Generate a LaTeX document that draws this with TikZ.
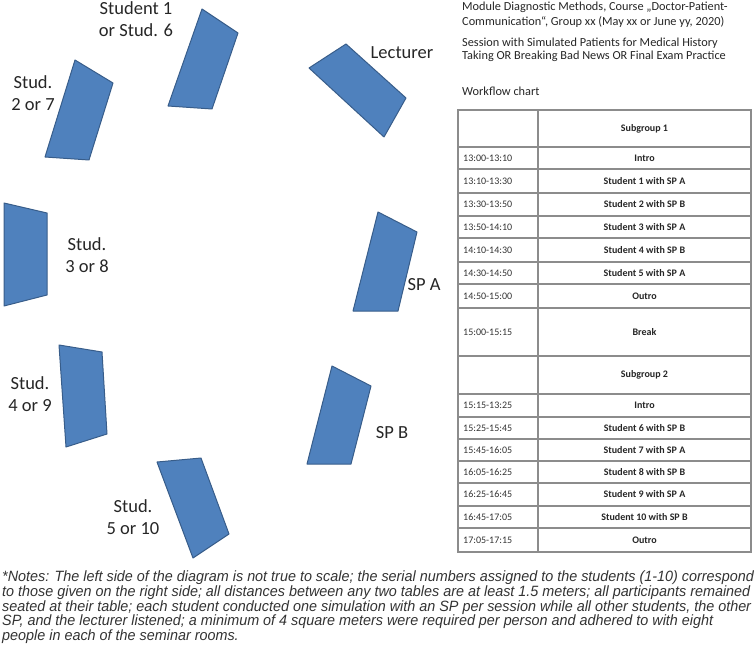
\documentclass[tikz,border=0pt]{standalone}
\usepackage{fontspec}
\setmainfont{Carlito}
\newfontfamily\notefont[FakeStretch=0.965]{Liberation Sans}
\definecolor{tblfill}{HTML}{4F81BD}
\definecolor{tbldraw}{HTML}{385D8A}
\definecolor{gridc}{HTML}{8C8C8C}
\begin{document}
\begin{tikzpicture}[x=1pt,y=-1pt,
  desk/.style={fill=tblfill,draw=tbldraw,line width=1pt,line join=round},
  lbl/.style={font=\fontsize{18.5}{22}\selectfont,align=center,inner sep=0pt,text=black!85},
  head/.style={font=\fontsize{12.3}{14}\selectfont,anchor=west,inner sep=0pt,text=black!85},
  cellt/.style={font=\fontsize{10}{12}\selectfont,anchor=west,inner sep=0pt,text=black!80},
  celll/.style={font=\fontsize{10}{12}\selectfont\bfseries,inner sep=0pt,text=black!85},
  grid/.style={draw=gridc,line width=1.1pt},
  note/.style={font=\notefont\itshape\fontsize{14.9}{14.7}\selectfont,anchor=west,inner sep=0pt,text=black!80}]
\useasboundingbox (0,0) rectangle (754,668);
% desks
\draw[desk] (202,9) -- (238,33) -- (212,109) -- (168,106) -- cycle;
\draw[desk] (75,60) -- (113,83) -- (89,160) -- (45,157) -- cycle;
\draw[desk] (346,44) -- (406,98) -- (384,137) -- (309,68) -- cycle;
\draw[desk] (4,203) -- (47,213) -- (47,295) -- (4,306) -- cycle;
\draw[desk] (378,212) -- (417,232) -- (398,311) -- (353,311) -- cycle;
\draw[desk] (59,345) -- (102,352) -- (107,434) -- (66,447) -- cycle;
\draw[desk] (332,366) -- (371,386) -- (351,464) -- (307,464) -- cycle;
\draw[desk] (157,462) -- (201,458) -- (229,534) -- (193,558) -- cycle;
% labels
\node[lbl] (s1) at (136,19) {Student 1\\or Stud. 6};
\node[lbl] (s2) at (33,93) {Stud.\\2 or 7};
\node[lbl] (lec) at (402,53) {Lecturer};
\node[lbl] (s3) at (87,255) {Stud.\\3 or 8};
\node[lbl] (spa) at (424,285) {SP A};
\node[lbl] (s4) at (30,394) {Stud.\\4 or 9};
\node[lbl] (spb) at (392,433) {SP B};
\node[lbl] (s5) at (133,517) {Stud.\\5 or 10};
% header
\node[head] (h1) at (462,7) {Module Diagnostic Methods, Course „Doctor-Patient-};
\node[head] (h2) at (462,22) {Communication“, Group xx (May xx or June yy, 2020)};
\node[head] (h3) at (462,43) {Session with Simulated Patients for Medical History};
\node[head] (h4) at (462,56.5) {Taking OR Breaking Bad News OR Final Exam Practice};
\node[head] (h5) at (462,91) {Workflow chart};
% table
\foreach \y in {147,169,193,216,238,262,284,308,356,394,417,439,461,483,506,528}
  \draw[grid] (458,\y) -- (751,\y);
\draw[grid] (538,110) -- (538,552);
\draw[grid] (458,110) rectangle (751,552);
\foreach \i/\a/\b/\t/\l in {
  0/110/147//Subgroup 1,
  1/147/169/13:00-13:10/Intro,
  2/169/193/13:10-13:30/Student 1 with SP A,
  3/193/216/13:30-13:50/Student 2 with SP B,
  4/216/238/13:50-14:10/Student 3 with SP A,
  5/238/262/14:10-14:30/Student 4 with SP B,
  6/262/284/14:30-14:50/Student 5 with SP A,
  7/284/308/14:50-15:00/Outro,
  8/308/356/15:00-15:15/Break,
  9/356/394//Subgroup 2,
  10/394/417/15:15-13:25/Intro,
  11/417/439/15:25-15:45/Student 6 with SP B,
  12/439/461/15:45-16:05/Student 7 with SP A,
  13/461/483/16:05-16:25/Student 8 with SP B,
  14/483/506/16:25-16:45/Student 9 with SP A,
  15/506/528/16:45-17:05/Student 10 with SP B,
  16/528/552/17:05-17:15/Outro}{
  \node[cellt] (t\i) at (463,{(\a+\b)/2}) {\t};
  \node[celll] (l\i) at (644.5,{(\a+\b)/2}) {\l};
}
% notes
\node[note] (n1) at (2,578) {*Notes: The left side of the diagram is not true to scale; the serial numbers assigned to the students (1-10) correspond};
\node[note] (n2) at (2,593) {to those given on the right side; all distances between any two tables are at least 1.5 meters; all participants remained};
\node[note] (n3) at (2,607.5) {seated at their table; each student conducted one simulation with an SP per session while all other students, the other};
\node[note] (n4) at (2,622) {SP, and the lecturer listened; a minimum of 4 square meters were required per person and adhered to with eight};
\node[note] (n5) at (2,637) {people in each of the seminar rooms.};
\end{tikzpicture}
\end{document}
